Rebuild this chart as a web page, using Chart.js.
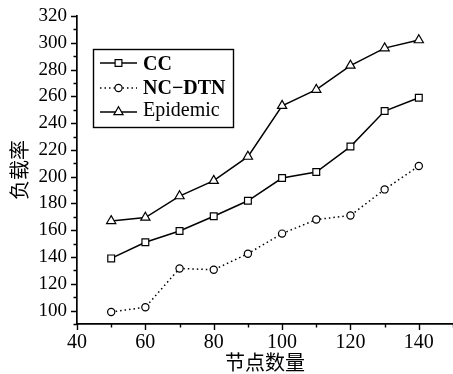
<!DOCTYPE html>
<html>
<head>
<meta charset="utf-8">
<script src="https://cdn.jsdelivr.net/npm/chart.js@4/dist/chart.umd.min.js"></script>
<style>
html, body { margin: 0; padding: 0; background: #fff; }
#wrap { width: 453px; height: 374px; }
</style>
</head>
<body>
<div id="wrap"><canvas id="chart" width="453" height="374"></canvas></div>
<script>
// data
const nodeCounts = [50, 60, 70, 80, 90, 100, 110, 120, 130, 140];
const ccLoad = [139, 151, 159.5, 170.5, 182, 199, 203.5, 222.5, 249, 259];
const ncdtnLoad = [99, 102.5, 131.5, 130.5, 142.5, 157.5, 168, 171, 190.5, 208];
const epidemicLoad = [167, 169.5, 185.5, 197, 215, 253, 265, 283, 296, 302];
const seriesNames = ['CC', 'NC\u2212DTN', 'Epidemic'];
const xTitle = '节点数量';
const yTitle = '负载率';

const serif = '"Liberation Serif", "Times New Roman", serif';

function toPoints(ys) {
    return nodeCounts.map((x, i) => ({ x: x, y: ys[i] }));
}

function majorOnly(v) {
    return v % 20 === 0 ? String(v) : '';
}

// small and big tick marks drawn outside the axes
const tickMarks = {
    id: 'tickMarks',
    afterDraw(chart) {
        const ctx = chart.ctx;
        const xs = chart.scales.x, ys = chart.scales.y;
        ctx.save();
        ctx.strokeStyle = '#000';
        ctx.lineWidth = 1.4;
        ctx.beginPath();
        xs.ticks.forEach(t => {
            const px = Math.round(xs.getPixelForValue(t.value)) + 0.5;
            const len = t.value % 20 === 0 ? 6 : 3.5;
            ctx.moveTo(px, xs.top);
            ctx.lineTo(px, xs.top + len);
        });
        ys.ticks.forEach(t => {
            const py = Math.round(ys.getPixelForValue(t.value)) + 0.5;
            const len = t.value % 20 === 0 ? 6 : 3.5;
            ctx.moveTo(ys.right, py);
            ctx.lineTo(ys.right - len, py);
        });
        ctx.stroke();
        ctx.restore();
    }
};

function drawMarker(ctx, style, x, y, r) {
    ctx.beginPath();
    if (style === 'rect') {
        const s = Math.SQRT1_2 * r;
        ctx.rect(x - s, y - s, 2 * s, 2 * s);
    } else if (style === 'circle') {
        ctx.arc(x, y, r, 0, Math.PI * 2);
    } else {
        ctx.moveTo(x, y - r);
        ctx.lineTo(x + r * Math.sin(Math.PI * 2 / 3), y + r * 0.5);
        ctx.lineTo(x - r * Math.sin(Math.PI * 2 / 3), y + r * 0.5);
        ctx.closePath();
    }
    ctx.fillStyle = '#fff';
    ctx.fill();
    ctx.stroke();
}

// boxed legend inside the plot, top left
const boxLegend = {
    id: 'boxLegend',
    afterDraw(chart) {
        const ctx = chart.ctx;
        ctx.save();
        ctx.strokeStyle = '#000';
        ctx.lineWidth = 1.4;
        ctx.strokeRect(93.5, 49.5, 140, 78);
        const rows = [63, 88, 112];
        const bases = [70, 94, 116];
        chart.data.datasets.forEach((ds, i) => {
            const y = rows[i];
            ctx.lineWidth = 1.5;
            ctx.setLineDash(ds.borderDash || []);
            ctx.beginPath();
            ctx.moveTo(100, y);
            ctx.lineTo(137, y);
            ctx.stroke();
            ctx.setLineDash([]);
            ctx.lineWidth = 1.2;
            drawMarker(ctx, ds.pointStyle, 118.5, y, ds.pointRadius);
            ctx.fillStyle = '#000';
            ctx.font = (i < 2 ? 'bold ' : '') + '20px ' + serif;
            ctx.textBaseline = 'alphabetic';
            ctx.fillText(ds.label, 143, bases[i]);
        });
        ctx.restore();
    }
};

const common = {
    borderColor: '#000',
    borderWidth: 1.5,
    pointBackgroundColor: '#fff',
    pointBorderColor: '#000',
    pointBorderWidth: 1.2,
    fill: false,
    tension: 0
};

new Chart(document.getElementById('chart'), {
    type: 'line',
    data: {
        datasets: [
            Object.assign({ label: seriesNames[0], data: toPoints(ccLoad), pointStyle: 'rect', pointRadius: 4.8 }, common),
            Object.assign({ label: seriesNames[1], data: toPoints(ncdtnLoad), pointStyle: 'circle', pointRadius: 3.6, borderDash: [1.5, 3] }, common),
            Object.assign({ label: seriesNames[2], data: toPoints(epidemicLoad), pointStyle: 'triangle', pointRadius: 5.3 }, common)
        ]
    },
    options: {
        responsive: false,
        animation: false,
        devicePixelRatio: 1,
        layout: { autoPadding: false, padding: { top: 16, right: 0, left: 0, bottom: 0 } },
        plugins: {
            legend: { display: false },
            tooltip: { enabled: false }
        },
        scales: {
            x: {
                type: 'linear',
                min: 40,
                max: 150,
                grid: { display: false },
                border: { display: true, color: '#000', width: 1.7 },
                ticks: {
                    stepSize: 10,
                    autoSkip: false,
                    maxRotation: 0,
                    padding: -1,
                    color: '#000',
                    font: { family: serif, size: 20 },
                    callback: majorOnly
                },
                title: {
                    display: true,
                    text: xTitle,
                    color: '#000',
                    font: { family: '"Noto Sans CJK SC", sans-serif', size: 20 },
                    padding: { top: 0, bottom: 0 }
                },
                afterFit(scale) {
                    scale.height = 50;
                    scale.paddingLeft = 0;
                    scale.paddingRight = 0;
                }
            },
            y: {
                min: 90,
                max: 320,
                grid: { display: false },
                border: { display: true, color: '#000', width: 1.7 },
                ticks: {
                    stepSize: 10,
                    autoSkip: false,
                    padding: 2,
                    color: '#000',
                    font: { family: serif, size: 19 },
                    callback: majorOnly
                },
                title: {
                    display: true,
                    text: yTitle,
                    color: '#000',
                    font: { family: '"Noto Sans CJK SC", sans-serif', size: 20 },
                    padding: { top: 7, bottom: 0 }
                },
                afterFit(scale) {
                    scale.width = 77;
                    scale.paddingTop = 0;
                    scale.paddingBottom = 0;
                }
            }
        }
    },
    plugins: [tickMarks, boxLegend]
});
</script>
</body>
</html>
